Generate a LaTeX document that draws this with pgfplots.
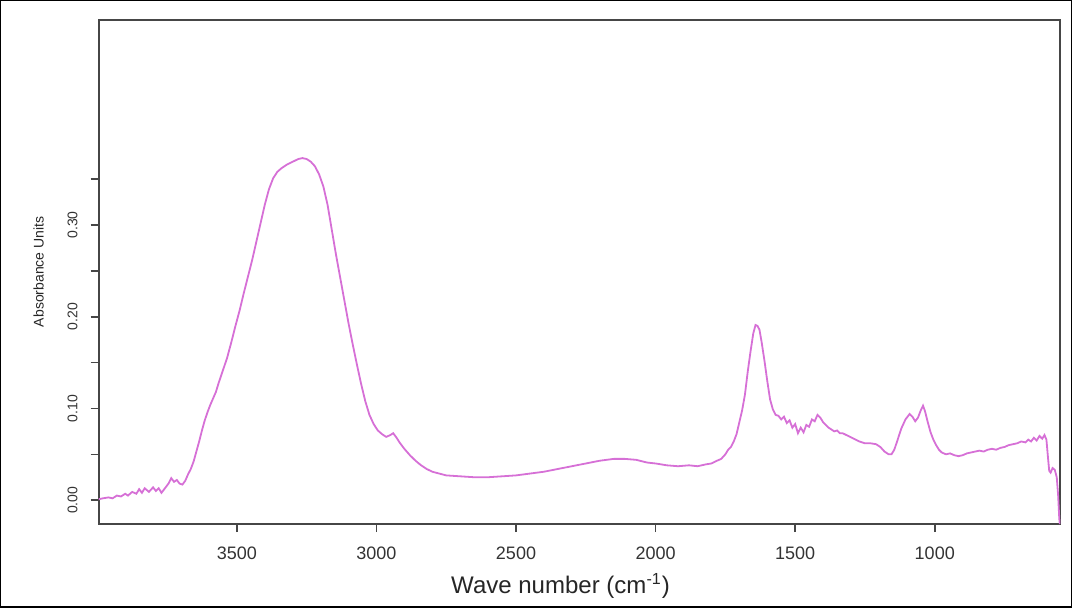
\documentclass[border=0pt]{standalone}
\usepackage{pgfplots}
\pgfplotsset{compat=1.18}
\usepackage{fontspec}
\setmainfont{Liberation Sans}
\definecolor{spec}{RGB}{214,112,214}
\definecolor{axgray}{RGB}{70,70,70}

\pgfplotstableread{
wn A
3995 0.001
3980 0.002
3960 0.003
3945 0.002
3930 0.005
3915 0.004
3900 0.007
3890 0.005
3875 0.009
3860 0.007
3850 0.012
3840 0.008
3830 0.013
3815 0.009
3800 0.014
3790 0.010
3780 0.013
3770 0.008
3760 0.012
3745 0.018
3735 0.024
3725 0.020
3715 0.022
3705 0.018
3695 0.017
3685 0.021
3675 0.028
3665 0.034
3655 0.042
3645 0.053
3635 0.064
3625 0.076
3615 0.087
3605 0.096
3595 0.104
3585 0.111
3575 0.118
3565 0.128
3555 0.137
3545 0.146
3535 0.155
3520 0.172
3505 0.190
3490 0.207
3475 0.226
3460 0.244
3445 0.262
3430 0.282
3415 0.302
3400 0.322
3385 0.339
3370 0.351
3355 0.358
3340 0.362
3320 0.366
3300 0.369
3280 0.372
3265 0.373
3250 0.372
3235 0.369
3220 0.364
3205 0.355
3190 0.342
3175 0.322
3160 0.295
3145 0.268
3130 0.243
3115 0.218
3100 0.193
3085 0.170
3070 0.148
3055 0.127
3040 0.108
3025 0.093
3010 0.083
2995 0.076
2980 0.072
2965 0.069
2950 0.071
2940 0.073
2930 0.069
2915 0.062
2900 0.056
2880 0.049
2860 0.043
2840 0.038
2820 0.034
2800 0.031
2775 0.029
2750 0.027
2700 0.026
2650 0.025
2600 0.025
2550 0.026
2500 0.027
2450 0.029
2400 0.031
2350 0.034
2300 0.037
2250 0.040
2200 0.043
2150 0.045
2110 0.045
2070 0.044
2030 0.041
2000 0.040
1960 0.038
1920 0.037
1880 0.038
1850 0.037
1820 0.039
1800 0.040
1780 0.043
1765 0.045
1750 0.050
1740 0.055
1730 0.058
1720 0.064
1710 0.072
1700 0.085
1690 0.098
1680 0.115
1670 0.140
1660 0.162
1650 0.182
1642 0.191
1635 0.190
1628 0.186
1620 0.172
1610 0.152
1600 0.130
1590 0.110
1580 0.099
1570 0.093
1560 0.092
1550 0.088
1540 0.091
1530 0.084
1520 0.087
1510 0.079
1500 0.083
1490 0.073
1480 0.079
1470 0.074
1460 0.082
1450 0.080
1440 0.088
1430 0.086
1420 0.093
1410 0.090
1400 0.085
1390 0.082
1380 0.079
1370 0.077
1360 0.075
1350 0.076
1340 0.073
1330 0.073
1310 0.070
1290 0.067
1270 0.064
1250 0.062
1230 0.062
1210 0.061
1195 0.058
1180 0.053
1165 0.050
1155 0.050
1145 0.055
1135 0.064
1120 0.078
1105 0.088
1090 0.094
1080 0.091
1070 0.086
1060 0.090
1050 0.098
1042 0.103
1035 0.097
1025 0.085
1015 0.074
1005 0.066
995 0.060
985 0.055
975 0.052
960 0.050
945 0.051
930 0.049
915 0.048
900 0.049
885 0.051
870 0.052
855 0.053
840 0.054
825 0.053
810 0.055
795 0.056
780 0.055
765 0.057
750 0.058
735 0.060
720 0.061
705 0.062
690 0.064
675 0.063
665 0.066
655 0.064
645 0.068
635 0.065
625 0.070
615 0.067
607 0.071
600 0.066
594 0.045
590 0.032
585 0.030
578 0.035
570 0.033
563 0.025
558 0.005
554 -0.020
552 -0.026
}\spectrum

\begin{document}
\begin{tikzpicture}
\begin{axis}[
    name=ax,
    scale only axis,
    width=480.5pt, height=252pt,
    x dir=reverse,
    xmin=550, xmax=3995,
    ymin=-0.026, ymax=0.524,
    axis line style={axgray, line width=1pt},
    xtick={1000,1500,...,3500},
    ytick={0,0.1,0.2,0.3},
    minor ytick={0.05,0.15,0.25,0.35},
    xtick pos=bottom, ytick pos=left,
    tick align=outside,
    major tick length=4pt, minor tick length=4pt,
    tick style={axgray, line width=0.8pt},
    /pgf/number format/assume math mode=true,
    xticklabel style={/pgf/number format/set thousands separator={}, font=\fontsize{9}{9}\selectfont, text=black!80, yshift=-4pt},
    yticklabel style={/pgf/number format/fixed, /pgf/number format/fixed zerofill, /pgf/number format/precision=2,
        rotate=90, anchor=south, font=\fontsize{7}{7}\selectfont, text=black!80, yshift=3pt},
    xlabel={Wave number (cm\textsuperscript{-1})},
    ylabel={Absorbance Units},
    xlabel style={font=\fontsize{12}{12}\selectfont, text=black!85, at={([xshift=-9.5pt,yshift=-31pt]axis description cs:0.5,0)}, anchor=center},
    ylabel style={font=\fontsize{7}{7}\selectfont, text=black!85, at={([xshift=-30pt]axis description cs:0,0.5)}, anchor=center},
]
\addplot[spec, line width=0.9pt, no markers] table[x=wn, y=A] {\spectrum};
\end{axis}
\draw[black, line width=0.6pt] ([shift={(-49pt,-41.5pt)}]ax.south west) rectangle ([shift={(486pt,261.5pt)}]ax.south west);
\end{tikzpicture}
\end{document}
